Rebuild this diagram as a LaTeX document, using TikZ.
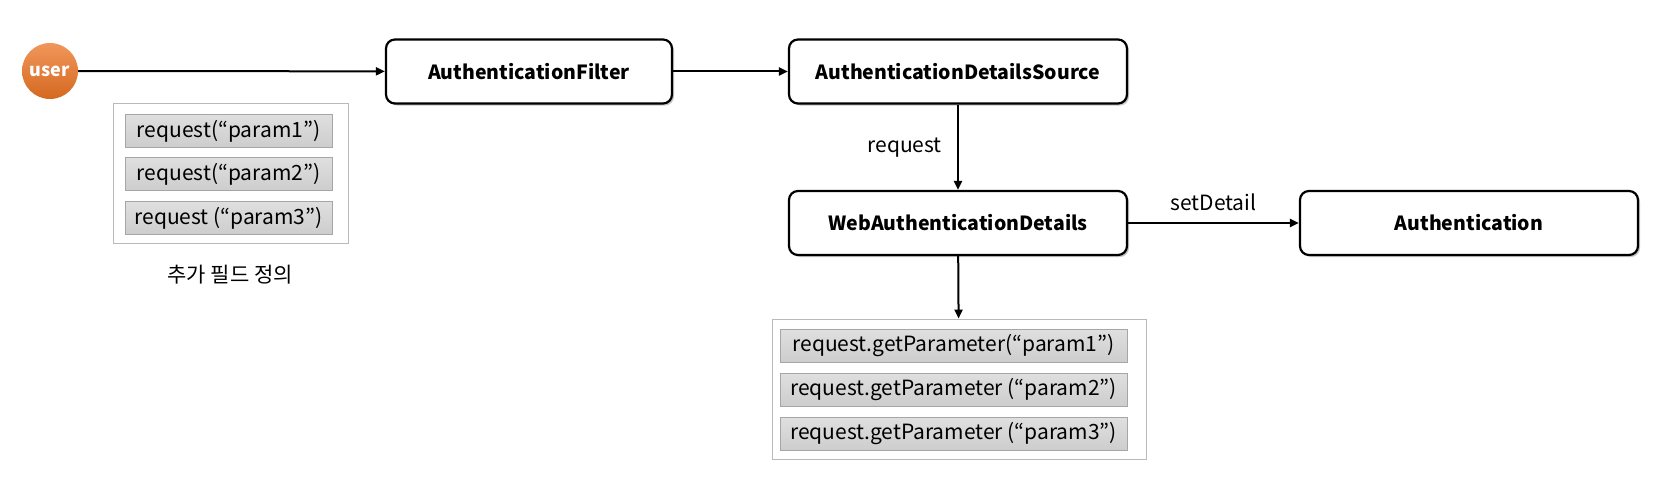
\documentclass[tikz,border=0pt]{standalone}
\usepackage{fontspec}
\setmainfont{Noto Sans CJK KR}
\usetikzlibrary{arrows.meta,shadows}
\definecolor{userorange}{HTML}{EC7424}
\definecolor{paramgray}{HTML}{CDCDCD}
\begin{document}
\begin{tikzpicture}[x=1pt, y=-1pt,
    comp/.style={draw, line width=2.2pt, rounded corners=9pt, fill=white,
      minimum width=338pt, minimum height=64pt, font=\fontsize{19.5}{23}\selectfont\bfseries,
      drop shadow={shadow xshift=2pt, shadow yshift=-2pt, opacity=0.45, fill=gray}},
    actor/.style={circle, minimum size=56pt, inner sep=0pt, text=white,
      top color=userorange!75!white, bottom color=userorange!90!black,
      font=\fontsize{18}{20}\selectfont\bfseries},
    grp/.style={draw=gray!55, line width=0.8pt, fill=white},
    param/.style={draw=gray!70, line width=0.8pt, top color=gray!25, bottom color=paramgray,
      minimum height=33pt, inner sep=0pt, font=\fontsize{21}{24}\selectfont},
    lbl/.style={font=\fontsize{21}{24}\selectfont},
    arr/.style={-{Triangle[length=9pt, width=8pt]}, line width=2pt}]
  \useasboundingbox (0,0) rectangle (1666,487);
  \node[actor] (user) at (50,71) {user};
  \node[comp, minimum width=286pt] (filter) at (529,71.5) {AuthenticationFilter};
  \node[comp] (source) at (958,71.5) {AuthenticationDetailsSource};
  \node[comp] (details) at (958,223) {WebAuthenticationDetails};
  \node[comp] (auth) at (1469,223) {Authentication};
  % parameters of the request
  \node[grp, minimum width=235pt, minimum height=140pt] (grpL) at (230.5,173) {};
  \node[param, minimum width=207pt] (p1) at (228.5,131) {request(“param1”)};
  \node[param, minimum width=207pt] (p2) at (228.5,174) {request(“param2”)};
  \node[param, minimum width=207pt] (p3) at (228.5,218) {request (“param3”)};
  \node[lbl] (extra) at (230,275) {추가 필드 정의};
  % values read in the details
  \node[grp, minimum width=374pt, minimum height=140pt] (grpB) at (959,389) {};
  \node[param, minimum width=347pt] (g1) at (953.5,346) {request.getParameter(“param1”)};
  \node[param, minimum width=347pt] (g2) at (953.5,389.5) {request.getParameter (“param2”)};
  \node[param, minimum width=347pt] (g3) at (953.5,434) {request.getParameter (“param3”)};
  \draw[arr] (user) -- (filter);
  \draw[arr] (filter) -- (source);
  \draw[arr] (source) -- (details) node[lbl, midway, left=12pt] {request};
  \draw[arr] (details) -- (auth) node[lbl, midway, above=8pt] {setDetail};
  \draw[arr] (details) -- (grpB);
\end{tikzpicture}
\end{document}
